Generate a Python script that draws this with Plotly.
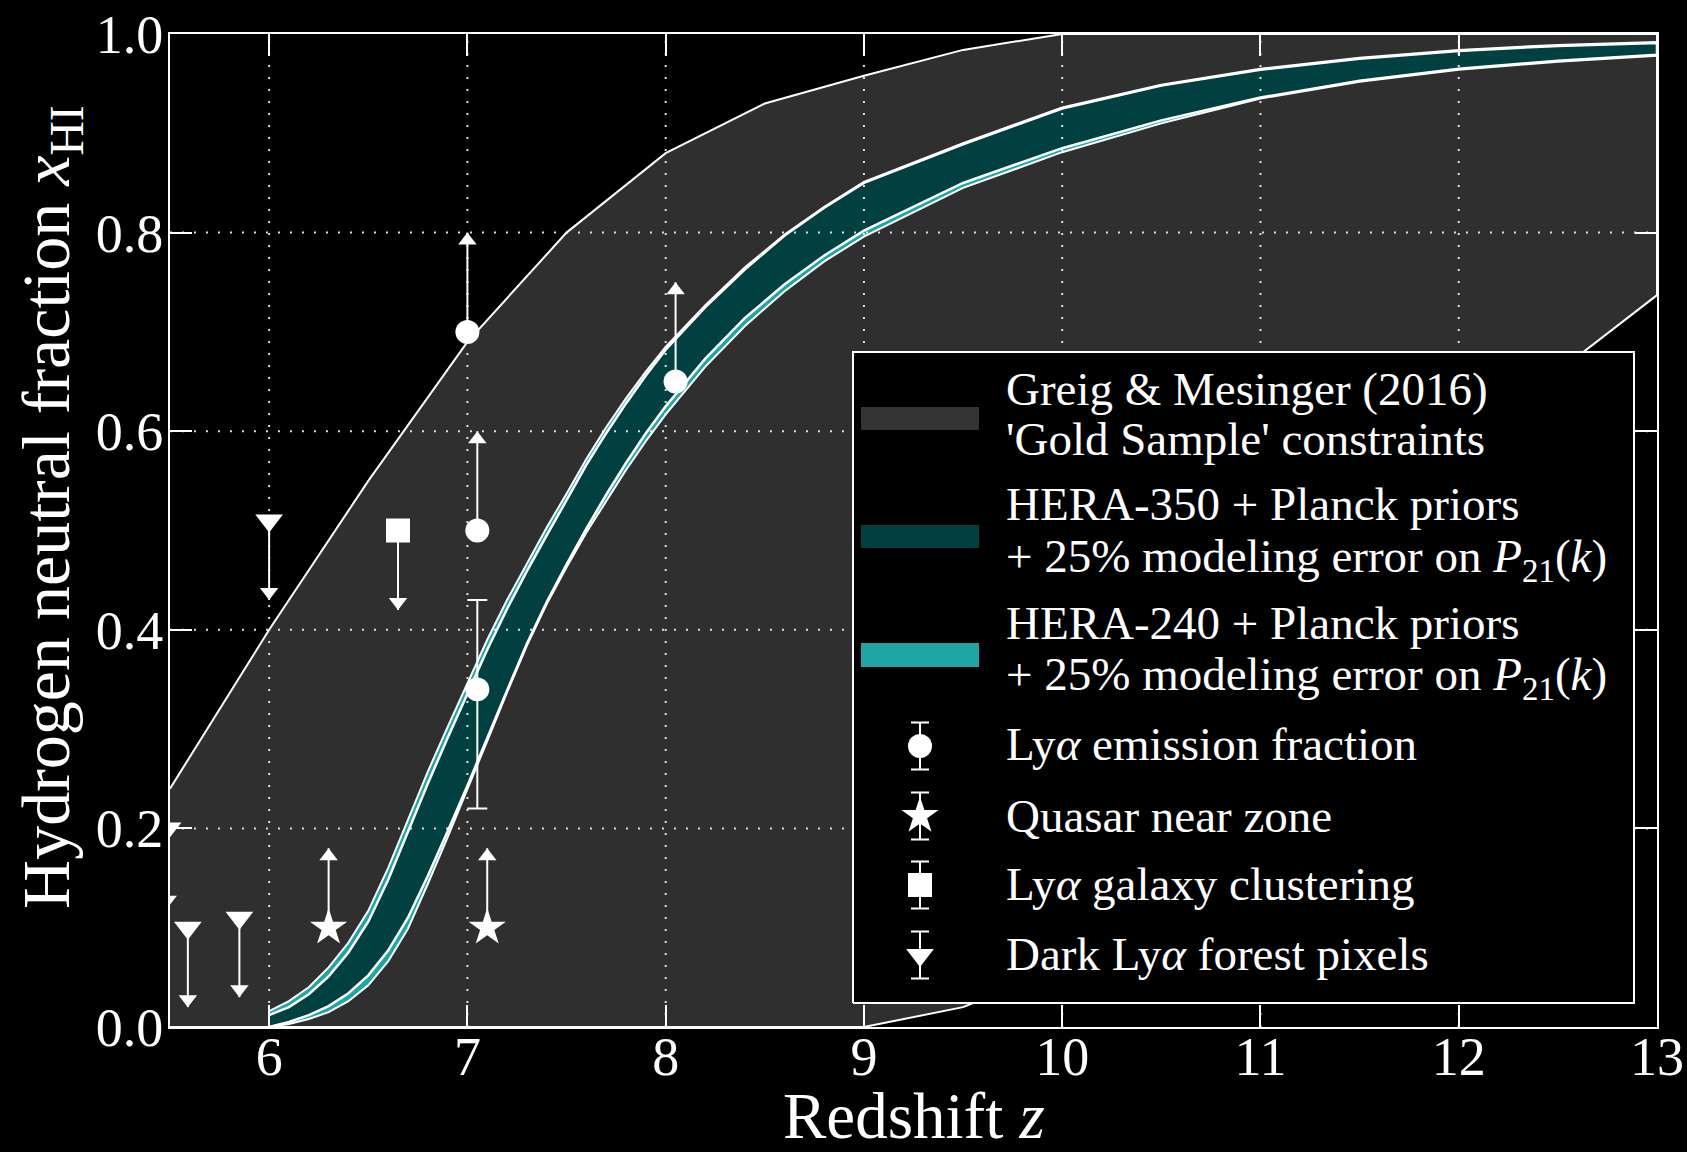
import plotly.graph_objects as go

# ---------------- data ----------------
# Greig & Mesinger (2016) 'Gold Sample' allowed region
gold_z = [5.5, 6.0, 6.5, 7.0, 7.5, 8.0, 8.5, 9.0, 9.5, 10.0, 10.5, 11.0, 11.5, 12.0, 12.5, 13.0]
gold_hi = [0.24, 0.40, 0.55, 0.69, 0.80, 0.88, 0.93, 0.958, 0.984, 1.0, 1.0, 1.0, 1.0, 1.0, 1.0, 1.0]
gold_lo = [0.0, 0.0, 0.0, 0.0, 0.0, 0.0, 0.0, 0.0, 0.02, 0.06, 0.13, 0.23, 0.36, 0.50, 0.66, 0.737]

# HERA forecast bands (redshift grid shared by both arrays)
hera_z = [6.0, 6.1, 6.2, 6.3, 6.4, 6.5, 6.6, 6.7, 6.8, 6.9, 7.0, 7.1, 7.2, 7.3, 7.4, 7.5,
          7.6, 7.7, 7.8, 7.9, 8.0, 8.2, 8.4, 8.6, 8.8, 9.0, 9.5, 10.0, 10.5, 11.0, 11.5,
          12.0, 12.5, 13.0]
hera350_hi = [0.012, 0.020, 0.033, 0.051, 0.075, 0.106, 0.148, 0.196, 0.245, 0.291, 0.336,
              0.380, 0.421, 0.459, 0.495, 0.530, 0.566, 0.598, 0.628, 0.656, 0.682, 0.725,
              0.763, 0.797, 0.825, 0.850, 0.889, 0.925, 0.948, 0.964, 0.975, 0.983, 0.988, 0.991]
hera350_lo = [0.000, 0.005, 0.012, 0.021, 0.034, 0.052, 0.077, 0.110, 0.152, 0.197, 0.243,
              0.291, 0.339, 0.386, 0.428, 0.466, 0.502, 0.536, 0.568, 0.598, 0.625, 0.673,
              0.714, 0.748, 0.777, 0.802, 0.850, 0.885, 0.913, 0.936, 0.953, 0.965, 0.973, 0.979]
hera240_hi = [0.016, 0.026, 0.040, 0.060, 0.085, 0.117, 0.160, 0.208, 0.257, 0.302, 0.346,
              0.390, 0.430, 0.467, 0.503, 0.537, 0.572, 0.604, 0.633, 0.660, 0.685, 0.727,
              0.765, 0.798, 0.826, 0.851, 0.890, 0.926, 0.949, 0.965, 0.976, 0.984, 0.989, 0.992]
hera240_lo = [0.000, 0.003, 0.008, 0.015, 0.026, 0.042, 0.066, 0.099, 0.144, 0.191, 0.239,
              0.288, 0.337, 0.384, 0.426, 0.463, 0.498, 0.530, 0.561, 0.590, 0.617, 0.665,
              0.706, 0.741, 0.771, 0.796, 0.845, 0.881, 0.910, 0.935, 0.952, 0.964, 0.972, 0.978]

# Lya emission fraction: lower limits
lya_lim_z = [7.0, 7.05, 8.05]
lya_lim_x = [0.70, 0.50, 0.65]
lya_lim_len = [0.10, 0.10, 0.10]
# Lya emission fraction: measurement with asymmetric errors
lya_det_z = [7.05]
lya_det_x = [0.34]
lya_det_err_up = [0.09]
lya_det_err_dn = [0.12]

# Quasar near zone: lower limits
qso_z = [6.3, 7.1]
qso_x = [0.10, 0.10]
qso_len = [0.08, 0.08]

# Lya galaxy clustering: upper limit
clus_z = [6.65]
clus_x = [0.50]
clus_len = [0.08]

# Dark Lya forest pixels: upper limits
dark_z = [5.488, 5.59, 5.85, 6.0]
dark_x = [0.20, 0.10, 0.11, 0.51]
dark_len = [0.08, 0.08, 0.08, 0.08]

x_ticks = [6, 7, 8, 9, 10, 11, 12, 13]
y_ticks = [0.0, 0.2, 0.4, 0.6, 0.8, 1.0]
y_tick_text = ["0.0", "0.2", "0.4", "0.6", "0.8", "1.0"]
X_RANGE = [5.5, 13]
Y_RANGE = [0, 1]

# ---------------- geometry / style ----------------
FIG_W, FIG_H = 1687, 1152
M_L, M_R, M_T, M_B = 170, 30, 34, 125
PLOT_W = FIG_W - M_L - M_R
PLOT_H = FIG_H - M_T - M_B


def u(px):
    """pixel column -> fraction of plot width"""
    return (px - M_L) / PLOT_W


def v(py):
    """pixel row -> fraction of plot height (from bottom)"""
    return (M_T + PLOT_H - py) / PLOT_H


SERIF = "Liberation Serif"
WHITE = "#ffffff"
GOLD_FILL = "#2f2f2f"
TEAL_DARK = "#004040"
TEAL_LIGHT = "#20a5a5"
GRID = "rgba(255,255,255,0.85)"

HEAD = 16                          # arrow-head marker size (px)
HEAD_DY = (HEAD / 2) / PLOT_H      # apex offset in data units (y range = 1)

fig = go.Figure()


def band(z, hi, lo, fill, lw, name):
    fig.add_trace(go.Scatter(
        x=z + z[::-1], y=hi + lo[::-1], fill="toself", fillcolor=fill,
        mode="lines", line=dict(color=WHITE, width=lw),
        name=name, hoverinfo="skip", showlegend=False))


band(gold_z, gold_hi, gold_lo, GOLD_FILL, 2, "Greig & Mesinger (2016)")
band(hera_z, hera240_hi, hera240_lo, TEAL_LIGHT, 2, "HERA-240")
band(hera_z, hera350_hi, hera350_lo, TEAL_DARK, 2.5, "HERA-350")

# dotted grid drawn over the shaded bands
gx, gy = [], []
for t in x_ticks:
    if X_RANGE[0] < t < X_RANGE[1]:
        gx += [t, t, None]
        gy += [Y_RANGE[0], Y_RANGE[1], None]
for t in y_ticks:
    if Y_RANGE[0] < t < Y_RANGE[1]:
        gx += [X_RANGE[0], X_RANGE[1], None]
        gy += [t, t, None]
fig.add_trace(go.Scatter(x=gx, y=gy, mode="lines",
                         line=dict(color=GRID, width=2, dash="2px,10px"),
                         hoverinfo="skip", showlegend=False))


def limit_arrows(z, x, length, up):
    xs, ys, hx, hy = [], [], [], []
    for zi, xi, L in zip(z, x, length):
        tip = xi + L if up else xi - L
        xs += [zi, zi, None]
        ys += [xi, tip, None]
        hx.append(zi)
        hy.append(tip - HEAD_DY if up else tip + HEAD_DY)
    fig.add_trace(go.Scatter(x=xs, y=ys, mode="lines",
                             line=dict(color=WHITE, width=2),
                             hoverinfo="skip", showlegend=False))
    fig.add_trace(go.Scatter(x=hx, y=hy, mode="markers",
                             marker=dict(symbol="triangle-up" if up else "triangle-down",
                                         size=HEAD, color=WHITE, line=dict(width=0)),
                             hoverinfo="skip", showlegend=False))


limit_arrows(lya_lim_z, lya_lim_x, lya_lim_len, True)
limit_arrows(qso_z, qso_x, qso_len, True)
limit_arrows(clus_z, clus_x, clus_len, False)
limit_arrows(dark_z, dark_x, dark_len, False)

fig.add_trace(go.Scatter(
    x=lya_det_z, y=lya_det_x, mode="markers",
    error_y=dict(type="data", symmetric=False, array=lya_det_err_up,
                 arrayminus=lya_det_err_dn, color=WHITE, thickness=2, width=10),
    marker=dict(symbol="circle", size=24, color=WHITE, line=dict(width=0)),
    name="Lyα emission fraction", showlegend=False))


def points(z, x, symbol, size, name):
    fig.add_trace(go.Scatter(x=z, y=x, mode="markers",
                             marker=dict(symbol=symbol, size=size, color=WHITE,
                                         line=dict(width=0)),
                             name=name, showlegend=False))


points(lya_lim_z, lya_lim_x, "circle", 24, "Lyα emission fraction")
points(qso_z, qso_x, "star", 28, "Quasar near zone")
points(clus_z, clus_x, "square", 24, "Lyα galaxy clustering")
points(dark_z, dark_x, "triangle-down", 24, "Dark Lyα forest pixels")

# ---------------- legend panel (overlay axes in plot fractions) ----------------
box_u0, box_u1 = u(853), u(1634)
box_v0, box_v1 = v(1003), v(352)
fig.add_trace(go.Scatter(
    x=[box_u0, box_u1, box_u1, box_u0, box_u0],
    y=[box_v0, box_v0, box_v1, box_v1, box_v0],
    fill="toself", fillcolor="#000000", mode="lines",
    line=dict(color=WHITE, width=2), xaxis="x2", yaxis="y2",
    hoverinfo="skip", showlegend=False))

sw_u0, sw_u1 = u(861), u(979)
for top, bot, col in [(407, 430, "#333333"), (525, 548, TEAL_DARK), (643, 667, TEAL_LIGHT)]:
    fig.add_trace(go.Scatter(
        x=[sw_u0, sw_u1, sw_u1, sw_u0, sw_u0],
        y=[v(bot), v(bot), v(top), v(top), v(bot)],
        fill="toself", fillcolor=col, mode="lines", line=dict(width=0, color=col),
        xaxis="x2", yaxis="y2", hoverinfo="skip", showlegend=False))

mk_u = u(920)
bar_half = 23.5 / PLOT_H
for cy, sym, size in [(746, "circle", 24), (816, "star", 28),
                      (885, "square", 24), (955, "triangle-down", 24)]:
    fig.add_trace(go.Scatter(
        x=[mk_u], y=[v(cy)], mode="markers", xaxis="x2", yaxis="y2",
        error_y=dict(type="constant", value=bar_half, color=WHITE, thickness=2, width=9),
        marker=dict(symbol=sym, size=size, color=WHITE, line=dict(width=0)),
        hoverinfo="skip", showlegend=False))

legend_lines = [
    (387.5, "Greig &amp; Mesinger (2016)"),
    (437.0, "'Gold Sample' constraints"),
    (502.7, "HERA-350 + Planck priors"),
    (554.0, "+ 25% modeling error on <i>P</i><sub>21</sub>(<i>k</i>)"),
    (621.0, "HERA-240 + Planck priors"),
    (672.7, "+ 25% modeling error on <i>P</i><sub>21</sub>(<i>k</i>)"),
    (742.6, "Ly<i>α</i> emission fraction"),
    (814.7, "Quasar near zone"),
    (882.5, "Ly<i>α</i> galaxy clustering"),
    (952.4, "Dark Ly<i>α</i> forest pixels"),
]
LEG_FS = 47
annotations = []
for cy, txt in legend_lines:
    annotations.append(dict(
        x=u(1004), y=v(cy - 0.56 * LEG_FS), xref="paper", yref="paper",
        xanchor="left", yanchor="top", text=txt, showarrow=False,
        font=dict(family=SERIF, size=LEG_FS, color=WHITE)))

# axis titles
X_TITLE_FS = 65
annotations.append(dict(
    x=0.5, y=v(1136 - 0.891 * X_TITLE_FS), xref="paper", yref="paper",
    xanchor="center", yanchor="top", text="Redshift <i>z</i>", showarrow=False,
    font=dict(family=SERIF, size=X_TITLE_FS, color=WHITE)))
Y_TITLE_FS = 68
annotations.append(dict(
    x=u(66 - 0.891 * Y_TITLE_FS), y=v(507), xref="paper", yref="paper",
    xanchor="left", yanchor="middle", textangle=-90,
    text="Hydrogen neutral fraction <i>x</i><sub>HI</sub>", showarrow=False,
    font=dict(family=SERIF, size=Y_TITLE_FS, color=WHITE)))

axis_common = dict(
    showline=True, linecolor=WHITE, linewidth=2, mirror="ticks",
    ticks="inside", ticklen=22, tickwidth=2, tickcolor=WHITE,
    showgrid=False, zeroline=False,
    tickfont=dict(family=SERIF, size=54, color=WHITE),
)

fig.update_layout(
    width=FIG_W, height=FIG_H,
    margin=dict(l=M_L, r=M_R, t=M_T, b=M_B, autoexpand=False),
    paper_bgcolor="#000000", plot_bgcolor="#000000",
    showlegend=False,
    font=dict(family=SERIF, color=WHITE),
    xaxis=dict(range=X_RANGE, tickvals=x_ticks, ticklabelstandoff=-19,
               ticktext=[str(t) for t in x_ticks], **axis_common),
    yaxis=dict(range=Y_RANGE, tickvals=y_ticks, ticktext=y_tick_text,
               ticklabelstandoff=-6, **axis_common),
    xaxis2=dict(overlaying="x", range=[0, 1], visible=False, anchor="y2"),
    yaxis2=dict(overlaying="y", range=[0, 1], visible=False, anchor="x2"),
    annotations=annotations,
)

fig.write_html("out.html")
